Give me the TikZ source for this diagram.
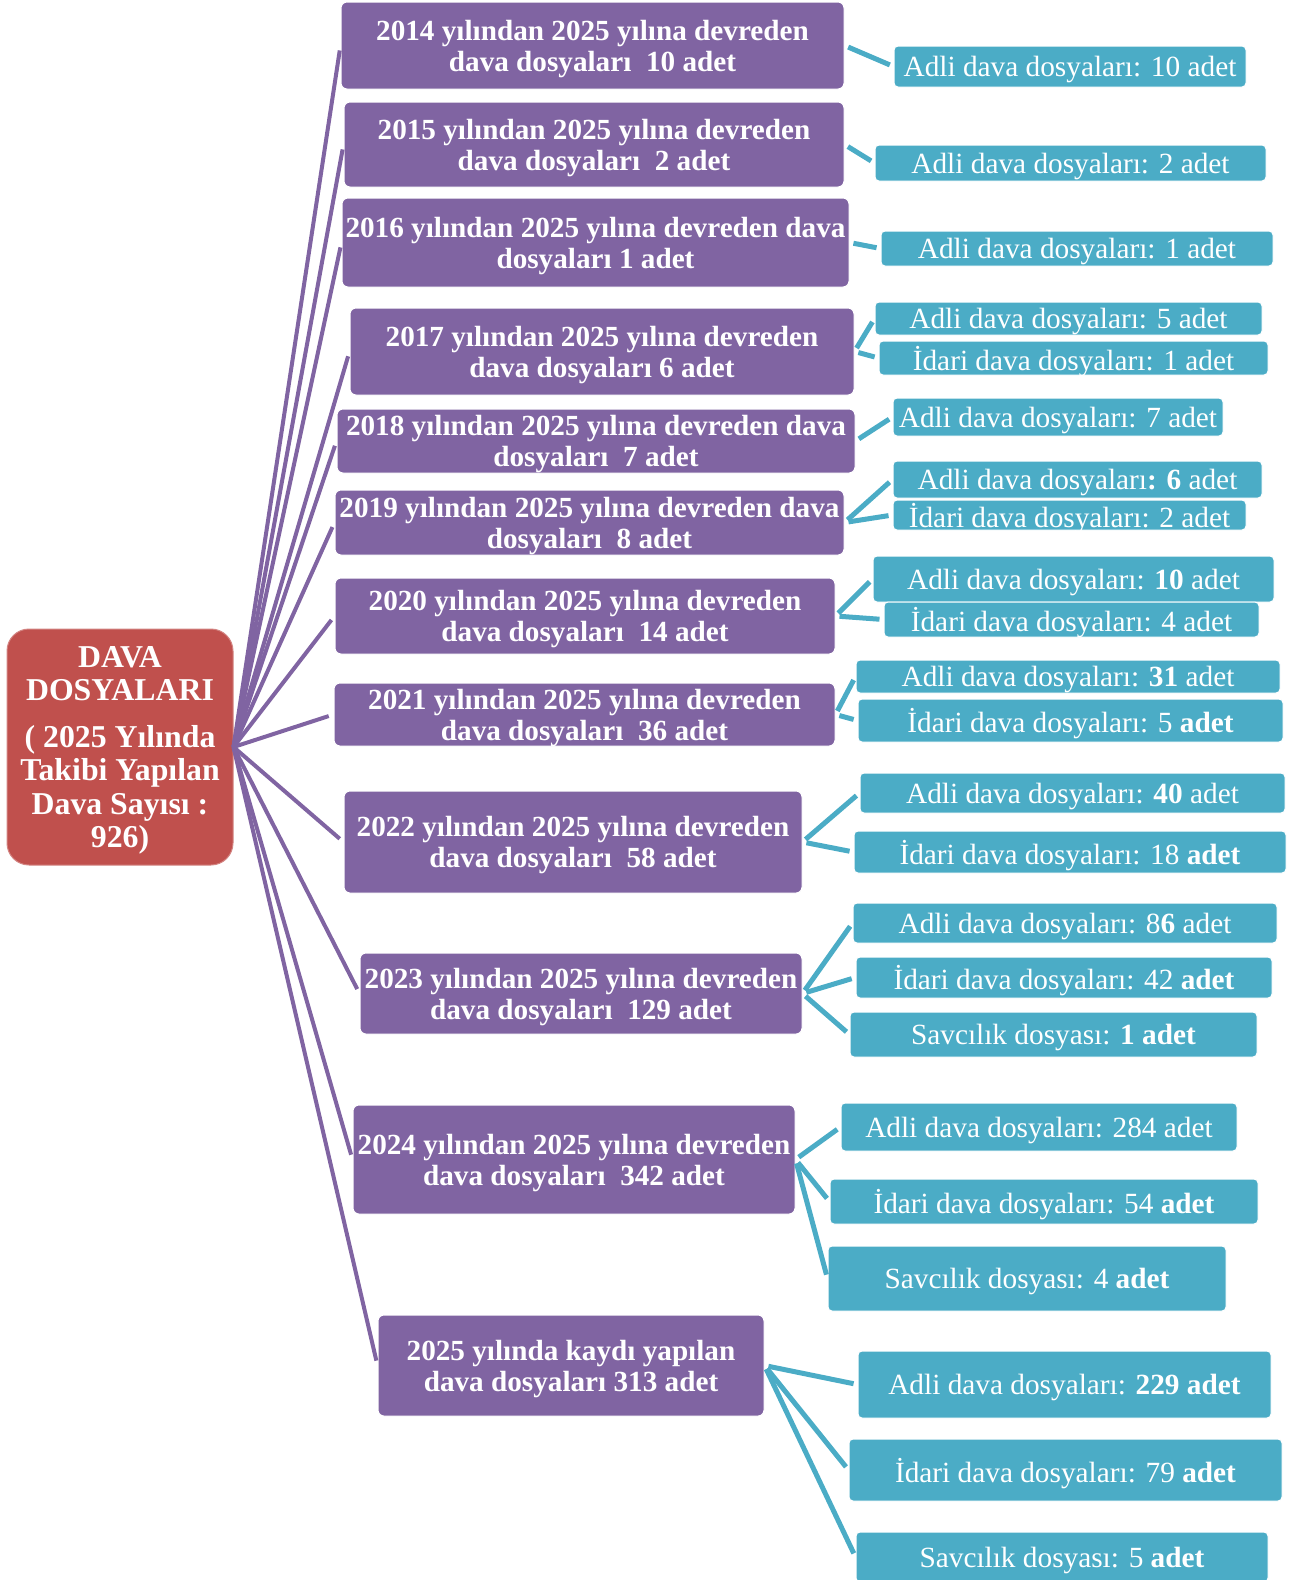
\documentclass[tikz,border=0pt]{standalone}
\usepackage{fontspec}
\setmainfont{Liberation Serif}
\definecolor{node_red}{RGB}{192,80,77}
\definecolor{node_purple}{RGB}{128,100,162}
\definecolor{edge_purple}{RGB}{128,100,162}
\definecolor{node_teal}{RGB}{75,172,198}
\definecolor{edge_teal}{RGB}{75,172,198}

\begin{document}
\begin{tikzpicture}[x=1pt,y=-1pt]
    \tikzstyle{root}=[rounded corners=22pt,fill=node_red,draw=node_red!70!white,line width=1pt,text=white,align=center,inner sep=0pt,text depth=0pt,font=\fontsize{31.8}{33.5}\selectfont\bfseries]
    \tikzstyle{year}=[rounded corners=6pt,fill=node_purple,draw=white,line width=1pt,text=white,align=center,inner sep=0pt,text depth=0pt,font=\fontsize{29.2}{31.2}\selectfont\bfseries]
    \tikzstyle{kind}=[rounded corners=4pt,fill=node_teal,draw=white,line width=1pt,text=white,inner sep=0pt,text depth=0pt,font=\fontsize{29.3}{31}\selectfont]
    \tikzstyle{plink}=[draw=edge_purple,line width=4pt,shorten >=5pt]
    \tikzstyle{tlink}=[draw=edge_teal,line width=5pt,shorten <=4pt,shorten >=4pt]

    \useasboundingbox (0,0) rectangle (1301,1580);

    \node[root,minimum width=226pt,minimum height=236pt] (root) at (120,747)
      {DAVA\\DOSYALARI\\[13pt]( 2025 Yılında\\Takibi Yapılan\\Dava Sayısı :\\926)};

    \node[year,minimum width=503pt,minimum height=87pt]  (p14) at (592.5,45.5)  {2014 yılından 2025 yılına devreden\\dava dosyaları~ 10 adet};
    \node[year,minimum width=500pt,minimum height=85pt]  (p15) at (594,144.5)   {2015 yılından 2025 yılına devreden\\dava dosyaları~ 2 adet};
    \node[year,minimum width=507pt,minimum height=89pt]  (p16) at (595.5,242.5) {2016 yılından 2025 yılına devreden dava\\dosyaları 1 adet};
    \node[year,minimum width=504pt,minimum height=87pt]  (p17) at (602,351.5)   {2017 yılından 2025 yılına devreden\\dava dosyaları 6 adet};
    \node[year,minimum width=518pt,minimum height=64pt]  (p18) at (596,441)     {2018 yılından 2025 yılına devreden dava\\dosyaları~ 7 adet};
    \node[year,minimum width=509pt,minimum height=65pt]  (p19) at (589.5,522.5) {2019 yılından 2025 yılına devreden dava\\dosyaları~ 8 adet};
    \node[year,minimum width=500pt,minimum height=76pt]  (p20) at (585,616)     {2020 yılından 2025 yılına devreden\\dava dosyaları~ 14 adet};
    \node[year,minimum width=501pt,minimum height=63pt]  (p21) at (584.5,714.5) {2021 yılından 2025 yılına devreden\\dava dosyaları~ 36 adet};
    \node[year,minimum width=458pt,minimum height=102pt] (p22) at (573,842)     {2022 yılından 2025 yılına devreden\\dava dosyaları~ 58 adet};
    \node[year,minimum width=442pt,minimum height=81pt]  (p23) at (581,993.5)   {2023 yılından 2025 yılına devreden\\dava dosyaları~ 129 adet};
    \node[year,minimum width=442pt,minimum height=109pt] (p24) at (574,1159.5)  {2024 yılından 2025 yılına devreden\\dava dosyaları~ 342 adet};
    \node[year,minimum width=386pt,minimum height=101pt] (p25) at (571,1365.5)  {2025 yılında kaydı yapılan\\dava dosyaları 313 adet};

    \node[kind,minimum width=352pt,minimum height=41pt] (a14) at (1070,66.5)    {Adli dava dosyaları: 10 adet};
    \node[kind,minimum width=391pt,minimum height=36pt] (a15) at (1070.5,163)   {Adli dava dosyaları: 2 adet};
    \node[kind,minimum width=392pt,minimum height=35pt] (a16) at (1077,248.5)   {Adli dava dosyaları: 1 adet};
    \node[kind,minimum width=387pt,minimum height=33pt] (a17) at (1068.5,318.5) {Adli dava dosyaları: 5 adet};
    \node[kind,minimum width=389pt,minimum height=34pt] (i17) at (1073.5,358)   {İdari dava dosyaları: 1 adet};
    \node[kind,minimum width=330pt,minimum height=38pt] (a18) at (1058,417)     {Adli dava dosyaları: 7 adet};
    \node[kind,minimum width=369pt,minimum height=37pt] (a19) at (1077.5,479.5) {Adli dava dosyaları\textbf{: 6} adet};
    \node[kind,minimum width=353pt,minimum height=30pt] (i19) at (1069.5,515)   {İdari dava dosyaları: 2 adet};
    \node[kind,minimum width=401pt,minimum height=46pt] (a20) at (1073.5,579)   {Adli dava dosyaları: \textbf{10} adet};
    \node[kind,minimum width=375pt,minimum height=35pt] (i20) at (1071.5,619.5) {İdari dava dosyaları: 4 adet};
    \node[kind,minimum width=424pt,minimum height=33pt] (a21) at (1068,676.5)   {Adli dava dosyaları: \textbf{31} adet};
    \node[kind,minimum width=425pt,minimum height=43pt] (i21) at (1070.5,720.5) {İdari dava dosyaları: 5 \textbf{adet}};
    \node[kind,minimum width=425pt,minimum height=40pt] (a22) at (1072.5,793)   {Adli dava dosyaları: \textbf{40} adet};
    \node[kind,minimum width=432pt,minimum height=42pt] (i22) at (1070,852)     {İdari dava dosyaları: 18 \textbf{adet}};
    \node[kind,minimum width=424pt,minimum height=40pt] (a23) at (1065,923)     {Adli dava dosyaları: 8\textbf{6} adet};
    \node[kind,minimum width=416pt,minimum height=41pt] (i23) at (1064,977.5)   {İdari dava dosyaları: 42 \textbf{adet}};
    \node[kind,minimum width=407pt,minimum height=45pt] (s23) at (1053.5,1034.5) {Savcılık dosyası: \textbf{1 adet}};
    \node[kind,minimum width=396pt,minimum height=48pt] (a24) at (1039,1127)    {Adli dava dosyaları: 284 adet};
    \node[kind,minimum width=428pt,minimum height=45pt] (i24) at (1044,1201.5)  {İdari dava dosyaları: 54 \textbf{adet}};
    \node[kind,minimum width=398pt,minimum height=65pt] (s24) at (1027,1278.5)  {Savcılık dosyası: 4 \textbf{adet}};
    \node[kind,minimum width=413pt,minimum height=67pt] (a25) at (1064.5,1384.5) {Adli dava dosyaları: \textbf{229 adet}};
    \node[kind,minimum width=433pt,minimum height=62pt] (i25) at (1065.5,1470)  {İdari dava dosyaları: 79 \textbf{adet}};
    \node[kind,minimum width=412pt,minimum height=50pt] (s25) at (1062,1557)    {Savcılık dosyası: 5 \textbf{adet}};

    % root to years
    \foreach \y in {14,...,25}
      \path (root.east) edge[plink] (p\y.west);

    % years to kinds
    \path (p14.east) edge[tlink] (a14.west)
     (p15.east) edge[tlink] (a15.west)
     (p16.east) edge[tlink] (a16.west)
     (p17.east) edge[tlink] (a17.west)
     (p17.east) edge[tlink] (i17.west)
     (p18.east) edge[tlink] (a18.west)
     (p19.east) edge[tlink] (a19.west)
     (p19.east) edge[tlink] (i19.west)
     (p20.east) edge[tlink] (a20.west)
     (p20.east) edge[tlink] (i20.west)
     (p21.east) edge[tlink] (a21.west)
     (p21.east) edge[tlink] (i21.west)
     (p22.east) edge[tlink] (a22.west)
     (p22.east) edge[tlink] (i22.west)
     (p23.east) edge[tlink] (a23.west)
     (p23.east) edge[tlink] (i23.west)
     (p23.east) edge[tlink] (s23.west)
     (p24.east) edge[tlink] (a24.west)
     (p24.east) edge[tlink] (i24.west)
     (p24.east) edge[tlink] (s24.west)
     (p25.east) edge[tlink] (a25.west)
     (p25.east) edge[tlink] (i25.west)
     (p25.east) edge[tlink] (s25.west);
\end{tikzpicture}
\end{document}
